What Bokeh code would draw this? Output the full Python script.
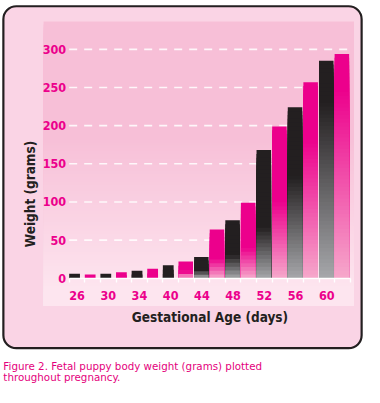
import numpy as np
from bokeh.plotting import figure
from bokeh.models import Range1d, FixedTicker, BoxAnnotation, Label
from bokeh.embed import file_html
from bokeh.resources import INLINE

# ---------------- data ----------------
days = [26, 28, 30, 32, 34, 37, 40, 42, 44, 46, 48, 50, 52, 54, 56, 58, 60, 62]
weights = [6, 5, 6, 8, 10, 12.5, 17, 22, 28, 64, 76, 99, 168, 199, 224, 257, 285, 294]
labelled_days = [26, 30, 34, 40, 44, 48, 52, 56, 60]
y_ticks = [0, 50, 100, 150, 200, 250, 300]
x_title = "Gestational Age (days)"
y_title = "Weight (grams)"
caption_lines = ["Figure 2. Fetal puppy body weight (grams) plotted",
                 "throughout pregnancy."]

# ---------------- layout / style ----------------
S = 364 / 380.0          # reference px -> canvas px
W, H = 364, 387
X0_REF, X1_REF = 71.7, 365.1     # slot 0 left / last slot right (reference px)
Y0_REF, Y300_REF = 290.0, 51.0   # value 0 / value 300 (reference px)
DARK, DARK_FADE = "#231f20", "#a6a7aa"
PINK, PINK_FADE = "#ec008c", "#f6a8cb"
FONT = "DejaVu Sans Condensed"

nslots = len(days)
ppx = S * (X1_REF - X0_REF) / nslots          # canvas px per slot
ppy = S * (Y0_REF - Y300_REF) / 300.0         # canvas px per gram
x_start = -S * X0_REF / ppx
x_end = nslots + (W - S * X1_REF) / ppx
y_end = 300 + S * Y300_REF / ppy
y_start = -(H - S * Y0_REF) / ppy


def hex2rgb(h):
    h = h.lstrip("#")
    return np.array([int(h[i:i + 2], 16) for i in (0, 2, 4)], dtype=float)


def lerp(c1, c2, t):
    a, b = hex2rgb(c1), hex2rgb(c2)
    c = a + (b - a) * t
    return "#%02x%02x%02x" % tuple(int(round(v)) for v in c)


def sx(X):
    return S * X


def sy(Y):
    return H - S * Y


p = figure(width=W, height=H, x_range=Range1d(x_start, x_end),
           y_range=Range1d(y_start, y_end),
           output_backend="svg", toolbar_location=None,
           min_border=0, min_border_left=0, min_border_right=0,
           min_border_top=0, min_border_bottom=0,
           background_fill_color="white", border_fill_color="white",
           outline_line_color=None)


def box(X0, X1, Y0, Y1, **kw):
    return BoxAnnotation(left=sx(X0), right=sx(X1), top=sy(Y0), bottom=sy(Y1),
                         left_units="screen", right_units="screen",
                         top_units="screen", bottom_units="screen",
                         fill_alpha=1, line_alpha=1, level="image", **kw)


# outer rounded box
p.add_layout(box(3, 377, 6, 363, fill_color="#fad4e5", line_color="#231f20",
                 line_width=2.2, border_radius=13))

# inner panel with vertical gradient
for Y in np.arange(22, 319, 3):
    t = min(1.0, max(0.0, (Y - 140) / 160.0))
    p.add_layout(box(45, 369, Y, 319, fill_color=lerp("#f7bfd7", "#fde5ef", t),
                     line_color=None))

# dashed grid lines, from the y tick values
gy = [v for v in y_ticks if v > 0]
p.segment(x0=[0] * len(gy), x1=[nslots] * len(gy), y0=gy, y1=gy,
          line_color="white", line_alpha=0.85, line_width=1.6, line_dash="8 7")

# bars with fading gradient, built from the data values
L, R, T, B, C = [], [], [], [], []
for i, (d, w) in enumerate(zip(days, weights)):
    bw = 0.69 if i < 7 else 0.93
    top_c, bot_c = (DARK, DARK_FADE) if i % 2 == 0 else (PINK, PINK_FADE)
    hpx = w * 0.7967
    if hpx < 15:
        s0 = 1.0
    else:
        s0 = min(0.6, max(0.15, 0.6 - 0.0044 * (hpx - 134)))
    n = max(1, int(round(hpx / 4)))
    for k in range(n):
        u = (k + 0.5) / n
        t = 0.0 if s0 >= 1 else max(0.0, (u - s0) / (1 - s0))
        L.append(i)
        R.append(i + bw)
        T.append(w * (1 - k / n))
        B.append(0)
        C.append(lerp(top_c, bot_c, t))
p.quad(left=L, right=R, top=T, bottom=B, fill_color=C, line_color=None)

p.xgrid.visible = False
p.ygrid.visible = False

# y axis (drawn at x = 0 of the slot scale)
ya = p.yaxis[0]
ya.fixed_location = 0
ya.ticker = FixedTicker(ticks=y_ticks)
ya.axis_line_color = None
ya.major_tick_line_color = None
ya.major_tick_out = 0
ya.major_tick_in = 0
ya.minor_tick_line_color = None
ya.minor_tick_out = 0
ya.major_label_standoff = 3
ya.major_label_text_font = FONT
ya.major_label_text_font_style = "bold"
ya.major_label_text_font_size = "12.5px"
ya.major_label_text_color = PINK
ya.axis_label = y_title
ya.axis_label_text_font = FONT
ya.axis_label_text_font_style = "bold"
ya.axis_label_text_font_size = "13.5px"
ya.axis_label_text_color = DARK
ya.axis_label_standoff = 2

# x axis (drawn at y = 0)
label_pos = [i + 0.5 for i, d in enumerate(days) if d in labelled_days]
xa = p.xaxis[0]
xa.fixed_location = 0
xa.bounds = (0, nslots)
xa.ticker = FixedTicker(ticks=label_pos, minor_ticks=list(range(nslots + 1)))
xa.major_label_overrides = {pos: str(d) for pos, d in zip(label_pos, labelled_days)}
xa.axis_line_color = "white"
xa.axis_line_width = 1.6
xa.major_tick_line_color = None
xa.major_tick_out = 0
xa.major_tick_in = 0
xa.minor_tick_line_color = "white"
xa.minor_tick_line_width = 1.4
xa.minor_tick_out = 4
xa.minor_tick_in = 0
xa.major_label_standoff = 9
xa.major_label_text_font = FONT
xa.major_label_text_font_style = "bold"
xa.major_label_text_font_size = "12.5px"
xa.major_label_text_color = PINK
xa.axis_label = x_title
xa.axis_label_text_font = FONT
xa.axis_label_text_font_style = "bold"
xa.axis_label_text_font_size = "13.5px"
xa.axis_label_text_color = DARK
xa.axis_label_standoff = 5

# caption
for j, line in enumerate(caption_lines):
    p.add_layout(Label(x=sx(3), y=sy(382 + j * 11.5), x_units="screen", y_units="screen",
                       text=line, text_font="DejaVu Sans", text_font_size="10.3px",
                       text_color="#e4007c", text_baseline="middle", text_align="left"))

open("out.html", "w").write(file_html(p, INLINE))
